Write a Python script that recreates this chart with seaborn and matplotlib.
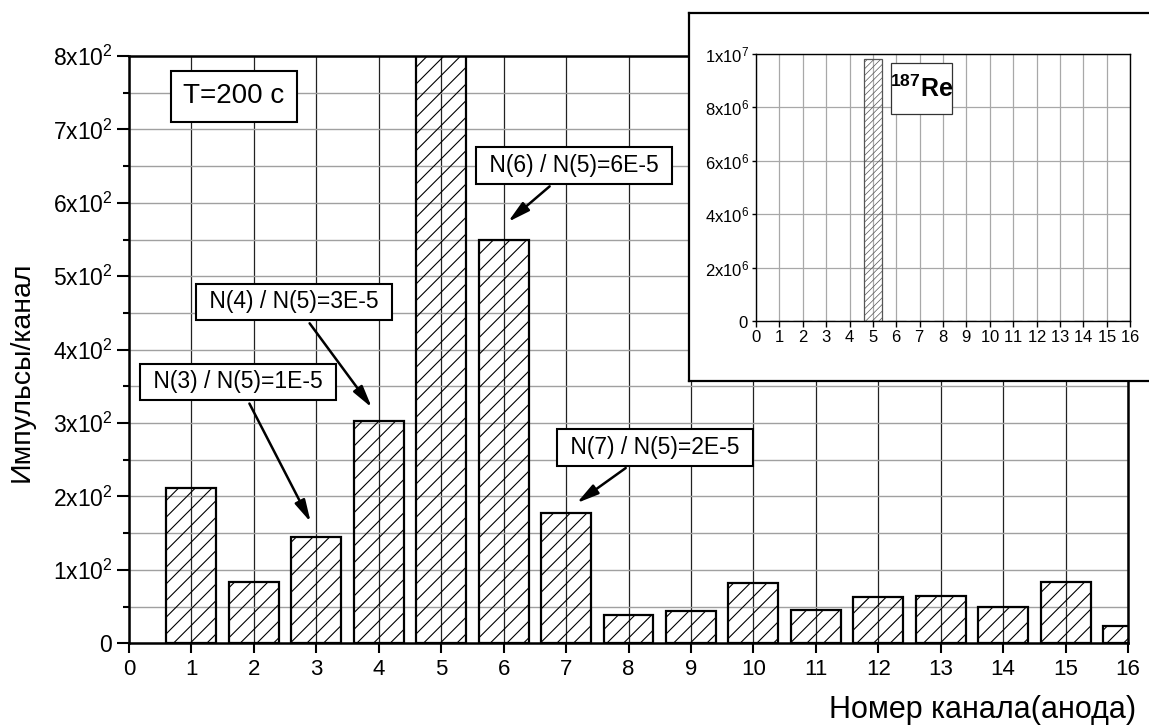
import numpy as np
import pandas as pd
import matplotlib
matplotlib.use("Agg")
import matplotlib.pyplot as plt
import seaborn as sns
from matplotlib import font_manager
from matplotlib.patches import Rectangle
from matplotlib.ticker import FixedLocator, FixedFormatter

# ---------------- data ----------------
channels = list(range(1, 17))
counts = [211, 84, 145, 303, 9.8e6, 549, 177, 38, 44, 82, 46, 63, 65, 50, 84, 24]

main_yticks = [0, 100, 200, 300, 400, 500, 600, 700, 800]
main_yticklabels = ["0", "1x10^2", "2x10^2", "3x10^2", "4x10^2",
                    "5x10^2", "6x10^2", "7x10^2", "8x10^2"]
inset_yticks = [0, 2e6, 4e6, 6e6, 8e6, 1e7]
inset_yticklabels = ["0", "2x10^6", "4x10^6", "6x10^6", "8x10^6", "1x10^7"]
xticks = list(range(0, 17))

notes = ["N(3) / N(5)=1E-5", "N(4) / N(5)=3E-5", "N(6) / N(5)=6E-5", "N(7) / N(5)=2E-5"]
note_text_xy = [(1.75, 356), (2.64, 465), (7.13, 651), (8.42, 267)]
note_tip_xy = [(2.91, 165), (3.89, 321), (6.07, 574), (7.17, 191)]

xlabel = "Номер канала(анода)"
ylabel = "Импульсы/канал"
time_label = "T=200 c"
isotope_label = r"$\mathbf{^{187}Re}$"

# ---------------- style ----------------
sns.set_style("white")
avail = {f.name for f in font_manager.fontManager.ttflist}
narrow = "Liberation Sans Narrow" if "Liberation Sans Narrow" in avail else "Liberation Sans"
plt.rcParams["font.family"] = ["Liberation Sans", "DejaVu Sans"]
plt.rcParams["mathtext.fontset"] = "custom"
plt.rcParams["mathtext.rm"] = "Liberation Sans"
plt.rcParams["mathtext.it"] = "Liberation Sans"
plt.rcParams["mathtext.sf"] = narrow
plt.rcParams["mathtext.bf"] = narrow + ":bold"
plt.rcParams["mathtext.default"] = "regular"
plt.rcParams["hatch.linewidth"] = 0.8
for k in ["text.color", "axes.labelcolor", "xtick.color", "ytick.color", "axes.edgecolor"]:
    plt.rcParams[k] = "black"

W, H = 1149, 727
fig = plt.figure(figsize=(W / 100, H / 100), dpi=100)

# ---------------- main axes ----------------
x0, x1, ytop, ybot = 129, 1128, 56, 643.3
ax = fig.add_axes([x0 / W, (H - ybot) / H, (x1 - x0) / W, (ybot - ytop) / H])
df = pd.DataFrame({"channel": channels, "counts": counts})
sns.barplot(data=df, x="channel", y="counts", native_scale=True, width=0.8,
            errorbar=None, color="white", ax=ax)
for p in ax.patches:
    p.set_facecolor("none")
    p.set_edgecolor("black")
    p.set_linewidth(1.6)
    p.set_hatch("//")
    if hasattr(p, "set_hatch_linewidth"):
        p.set_hatch_linewidth(0.8)

ax.set_xlim(0, 16)
ax.set_ylim(0, 800)
ax.set_axisbelow(True)
ax.xaxis.set_major_locator(FixedLocator(xticks))
ax.set_xticklabels([str(t) for t in xticks], fontsize=16)
ax.yaxis.set_major_locator(FixedLocator(main_yticks))
ax.yaxis.set_major_formatter(FixedFormatter(["$" + s + "$" if "^" in s else s for s in main_yticklabels]))
ax.yaxis.set_minor_locator(FixedLocator([50 + 100 * i for i in range(8)]))
ax.tick_params(axis="y", which="major", direction="out", length=9, width=1.5, labelsize=16.5, left=True, pad=3)
ax.tick_params(axis="y", which="minor", direction="out", length=4.5, width=1.5, left=True)
ax.tick_params(axis="x", which="major", direction="out", length=7, width=1.5, labelsize=16, bottom=True, pad=4)
ax.grid(True, axis="x", which="major", color="#222222", lw=0.9)
ax.grid(True, axis="y", which="both", color="#a0a0a0", lw=1.0)
for s in ax.spines.values():
    s.set_visible(True)
    s.set_color("black")
    s.set_linewidth(1.8)

ax.set_xlabel(xlabel, fontsize=22, ha="right")
ax.xaxis.set_label_coords((1136 - x0) / (x1 - x0), -(710 - ybot) / (ybot - ytop))
ax.xaxis.label.set_va("center")
ax.set_ylabel(ylabel, fontsize=20.5)
ax.yaxis.set_label_coords(-(107) / (x1 - x0), (ybot - 372) / (ybot - ytop))
ax.yaxis.label.set_va("center")

ax.text(1.68, 745, time_label, fontsize=20, ha="center", va="center",
        bbox=dict(boxstyle="square,pad=0.45", fc="white", ec="black", lw=1.5), zorder=5)

for txt, (tx, ty), (px, py) in zip(notes, note_text_xy, note_tip_xy):
    ax.annotate(" " + txt + " ", xy=(px, py), xytext=(tx, ty), fontsize=16.5,
                ha="center", va="center",
                bbox=dict(boxstyle="square,pad=0.3", fc="white", ec="black", lw=1.5),
                arrowprops=dict(arrowstyle="-|>,head_length=0.8,head_width=0.2", color="black",
                                lw=1.8, shrinkA=2, shrinkB=0),
                zorder=5)

# ---------------- inset frame ----------------
fl, ft, fb = 689, 13, 381
frame = fig.add_axes([fl / W, (H - fb) / H, 0.5, (fb - ft) / H], zorder=5)
frame.set_facecolor("white")
frame.set_xticks([])
frame.set_yticks([])
for s in frame.spines.values():
    s.set_color("black")
    s.set_linewidth(1.6)

il, ir, it, ib = 756, 1130, 54, 321
axi = fig.add_axes([il / W, (H - ib) / H, (ir - il) / W, (ib - it) / H], zorder=6)
sns.barplot(data=df, x="channel", y="counts", native_scale=True, width=0.8,
            errorbar=None, color="white", ax=axi)
for p in axi.patches:
    p.set_facecolor("none")
    p.set_edgecolor("#555555")
    p.set_linewidth(0.9)
    p.set_hatch("/////")
    if hasattr(p, "set_hatch_linewidth"):
        p.set_hatch_linewidth(0.5)
axi.set_xlim(0, 16)
axi.set_ylim(0, 1e7)
axi.set_axisbelow(True)
axi.xaxis.set_major_locator(FixedLocator(xticks))
axi.set_xticklabels(["$\\mathsf{%d}$" % t for t in xticks], fontsize=12)
axi.yaxis.set_major_locator(FixedLocator(inset_yticks))
axi.yaxis.set_major_formatter(FixedFormatter(["$\\mathsf{" + s + "}$" for s in inset_yticklabels]))
axi.tick_params(axis="y", direction="out", length=3, width=1, labelsize=12, left=True, pad=2)
axi.tick_params(axis="x", direction="out", length=4, width=1, labelsize=12, bottom=True, pad=2)
axi.grid(True, color="#a8a8a8", lw=0.9)
axi.set_xlabel("")
axi.set_ylabel("")
for s in axi.spines.values():
    s.set_visible(True)
    s.set_color("black")
    s.set_linewidth(1.0)
# label box for the isotope
bx0 = (891 - il) / (ir - il) * 16
bx1 = (952 - il) / (ir - il) * 16
by0 = (ib - 114) / (ib - it) * 1e7
by1 = (ib - 63) / (ib - it) * 1e7
axi.add_patch(Rectangle((bx0, by0), bx1 - bx0, by1 - by0, fc="white", ec="#333333", lw=0.9, zorder=4))
axi.text((bx0 + bx1) / 2, (by0 + by1) / 2, isotope_label, fontsize=18,
         ha="center", va="center", zorder=5)

fig.savefig("out.png", dpi=100, facecolor="white")
